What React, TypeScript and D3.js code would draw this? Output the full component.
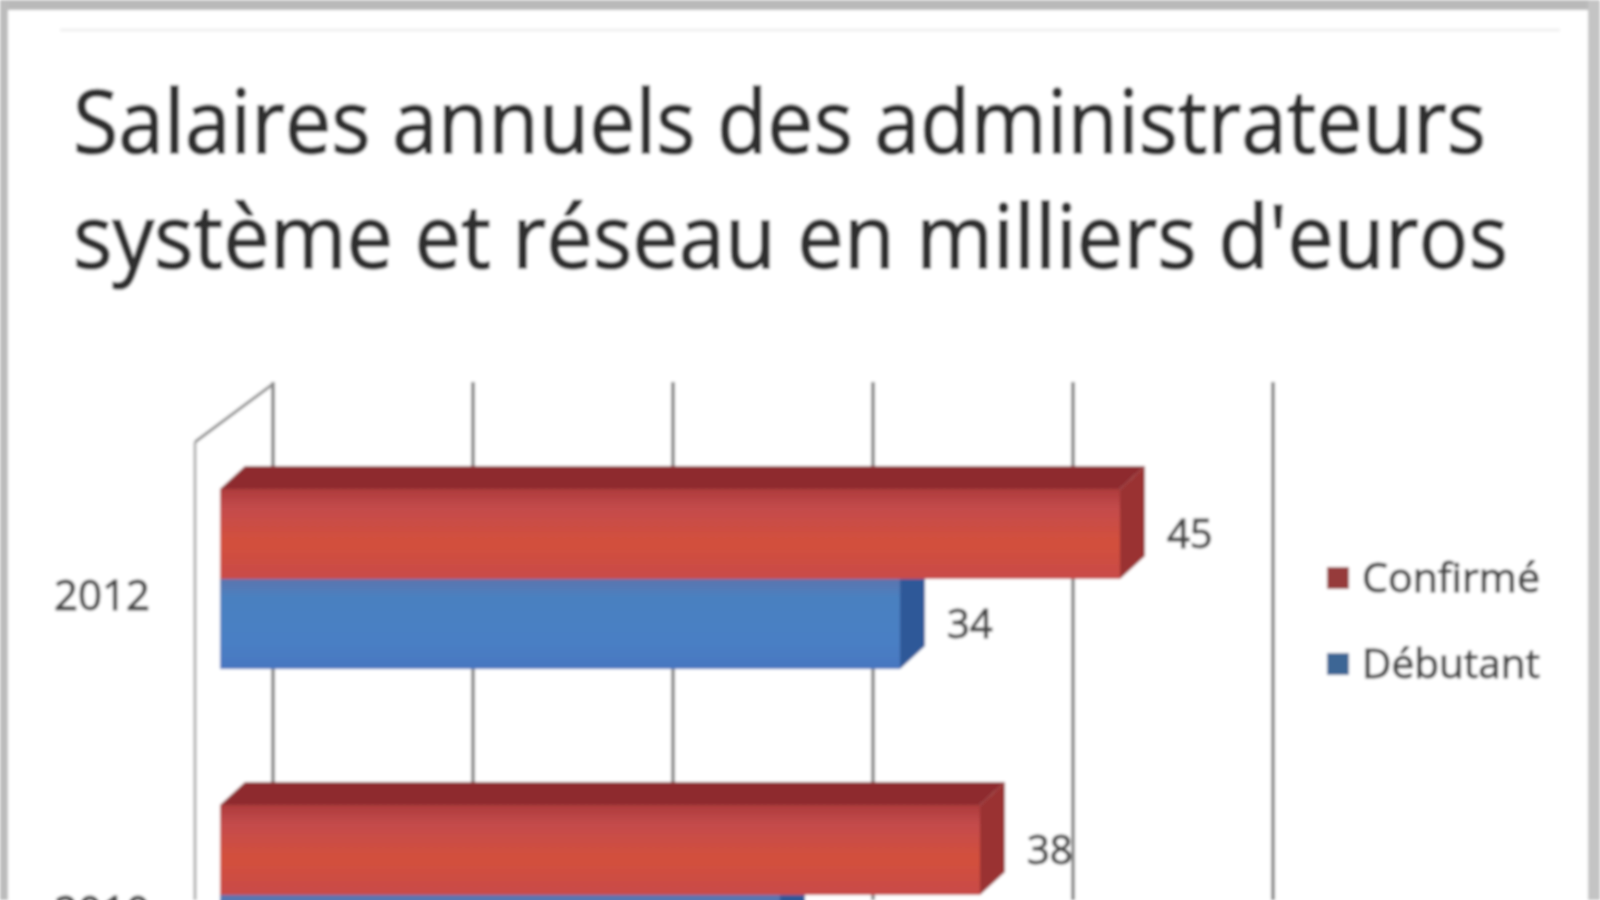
import React, { useEffect, useRef } from 'react';
import * as d3 from 'd3';

const titleLines = ['Salaires annuels des administrateurs', "système et réseau en milliers d'euros"];
const categories = ['2012', '2010'];
const seriesNames = ['Confirmé', 'Débutant'];
const confirmeValues = [45, 38];
const debutantValues = [34, 28];
const gridTicks = [0, 10, 20, 30, 40, 50];

const W = 1600;
const H = 900;
const FONT = '"Open Sans", "Noto Sans", sans-serif';

const App: React.FC = () => {
  const svgRef = useRef<SVGSVGElement>(null);

  useEffect(() => {
    document.body.style.margin = '0';
    document.body.style.overflow = 'hidden';
    if (!svgRef.current) return;

    const svg = d3.select(svgRef.current);
    svg.selectAll('*').remove();

    const rows = categories.map((cat, i) => ({
      cat,
      values: [
        { name: seriesNames[0], value: confirmeValues[i] },
        { name: seriesNames[1], value: debutantValues[i] },
      ],
    }));

    const defs = svg.append('defs');
    defs.append('filter').attr('id', 'soft')
      .append('feGaussianBlur').attr('stdDeviation', 1.6);

    const grad = (id: string, stops: [number, string][]) => {
      const g = defs.append('linearGradient').attr('id', id)
        .attr('x1', 0).attr('y1', 0).attr('x2', 0).attr('y2', 1);
      stops.forEach(([o, c]) => g.append('stop').attr('offset', o).attr('stop-color', c));
    };
    grad('redFront', [[0, '#ad3b3c'], [0.22, '#c44b4b'], [0.6, '#d3503c'], [1, '#c84a48']]);
    grad('blueFront', [[0, '#5c74ad'], [0.2, '#4a80c0'], [0.7, '#4a7fc4'], [1, '#4676c0']]);

    const palette: Record<string, { front: string; top: string; side: string; legend: string }> = {
      'Confirmé': { front: 'url(#redFront)', top: '#8e2c2d', side: '#9a3333', legend: '#963a3a' },
      'Débutant': { front: 'url(#blueFront)', top: '#2f5c9a', side: '#2d5898', legend: '#3c6695' },
    };

    const root = svg.append('g').attr('filter', 'url(#soft)');

    root.append('rect').attr('width', W).attr('height', H).attr('fill', '#ffffff');

    // value axis on the front plane of the bars, walls are offset in depth
    const x = d3.scaleLinear().domain([0, 50]).range([220, 1220]);
    const y = d3.scaleBand().domain(categories).range([421, 1053]).paddingInner(0.43).paddingOuter(0.215);
    const ys = d3.scaleBand().domain(seriesNames).range([0, y.bandwidth()]);

    const barDx = 25;
    const barDy = 23;
    const backDx = 53;
    const wallTop = 382;

    // back wall gridlines
    root.append('g')
      .selectAll('line')
      .data(gridTicks)
      .enter()
      .append('line')
      .attr('x1', d => x(d) + backDx)
      .attr('x2', d => x(d) + backDx)
      .attr('y1', wallTop)
      .attr('y2', H)
      .attr('stroke', '#7e7e7e')
      .attr('stroke-width', 3.5);

    // left wall
    const wallFrontX = x(0) - 25;
    root.append('line')
      .attr('x1', wallFrontX).attr('x2', wallFrontX)
      .attr('y1', wallTop + 60).attr('y2', H)
      .attr('stroke', '#b0b0b0').attr('stroke-width', 3);
    root.append('line')
      .attr('x1', wallFrontX).attr('y1', wallTop + 60)
      .attr('x2', x(0) + backDx).attr('y2', wallTop + 2)
      .attr('stroke', '#8e8e8e').attr('stroke-width', 3);

    // bars (lower series first so the upper bar hides its top face)
    rows.forEach(row => {
      const g = root.append('g');
      [...row.values].reverse().forEach(s => {
        const c = palette[s.name];
        const y0 = (y(row.cat) as number) + (ys(s.name) as number);
        const h = ys.bandwidth();
        const x0 = x(0);
        const x1 = x(s.value);
        g.append('path')
          .attr('d', `M${x0},${y0}L${x0 + barDx},${y0 - barDy}L${x1 + barDx},${y0 - barDy}L${x1},${y0}Z`)
          .attr('fill', c.top);
        g.append('path')
          .attr('d', `M${x1},${y0}L${x1 + barDx},${y0 - barDy}L${x1 + barDx},${y0 + h - barDy}L${x1},${y0 + h}Z`)
          .attr('fill', c.side);
        g.append('rect')
          .attr('x', x0).attr('y', y0)
          .attr('width', x1 - x0).attr('height', h)
          .attr('fill', c.front);
      });
    });

    // data labels
    rows.forEach(row => {
      row.values.forEach(s => {
        const y0 = (y(row.cat) as number) + (ys(s.name) as number);
        root.append('text')
          .attr('x', x(s.value) + barDx + 22)
          .attr('y', y0 + ys.bandwidth() / 2)
          .attr('dy', '0.35em')
          .style('font-family', FONT)
          .style('font-size', '40px')
          .attr('fill', '#444444')
          .attr('stroke', '#444444')
          .attr('stroke-width', 1)
          .text(s.value);
      });
    });

    // category labels
    root.append('g')
      .selectAll('text')
      .data(categories)
      .enter()
      .append('text')
      .attr('x', 150)
      .attr('y', d => (y(d) as number) + y.bandwidth() / 2 + 16)
      .attr('dy', '0.35em')
      .attr('text-anchor', 'end')
      .style('font-family', FONT)
      .style('font-size', '42px')
      .attr('fill', '#444444')
      .attr('stroke', '#444444')
      .attr('stroke-width', 1)
      .text(d => d);

    // legend
    const legend = root.append('g');
    seriesNames.forEach((name, i) => {
      const cy = 578 + i * 86;
      legend.append('rect')
        .attr('x', 1327).attr('y', cy - 11)
        .attr('width', 22).attr('height', 22)
        .attr('fill', palette[name].legend);
      legend.append('text')
        .attr('x', 1362).attr('y', cy)
        .attr('dy', '0.35em')
        .attr('textLength', 178)
        .attr('lengthAdjust', 'spacingAndGlyphs')
        .style('font-family', FONT)
        .style('font-size', '40px')
        .attr('fill', '#444444')
        .attr('stroke', '#444444')
        .attr('stroke-width', 1)
        .text(name);
    });

    // title
    root.append('g')
      .selectAll('text')
      .data(titleLines)
      .enter()
      .append('text')
      .attr('x', 73)
      .attr('y', (_, i) => 153 + i * 115)
      .attr('textLength', (_, i) => (i === 0 ? 1413 : 1435))
      .attr('lengthAdjust', 'spacingAndGlyphs')
      .style('font-family', FONT)
      .style('font-size', '88px')
      .attr('fill', '#2e2e2e')
      .attr('stroke', '#2e2e2e')
      .attr('stroke-width', 1.6)
      .text(d => d);

    // frame of the chart area
    root.append('rect').attr('x', 0).attr('y', 0).attr('width', W).attr('height', 10).attr('fill', '#b9b9b9');
    root.append('rect').attr('x', 0).attr('y', 0).attr('width', 8).attr('height', H).attr('fill', '#bcbcbc');
    root.append('rect').attr('x', W - 12).attr('y', 0).attr('width', 12).attr('height', H).attr('fill', '#c4c4c4');
    root.append('line')
      .attr('x1', 60).attr('x2', W - 40).attr('y1', 30).attr('y2', 30)
      .attr('stroke', '#f0f0f0').attr('stroke-width', 3);
  }, []);

  return (
    <div>
      <svg ref={svgRef} width={W} height={H} style={{ display: 'block' }}></svg>
    </div>
  );
};

export default App;
